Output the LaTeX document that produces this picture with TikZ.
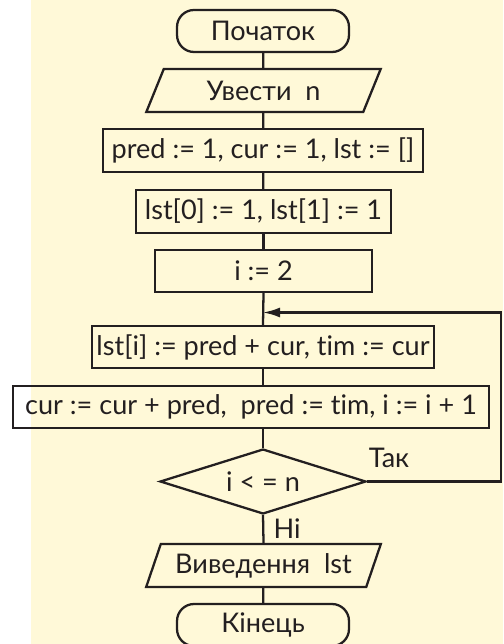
\documentclass[tikz,border=0pt]{standalone}
\usepackage{fontspec}
\setmainfont[Ligatures=NoCommon]{Lato}
\usetikzlibrary{shapes.geometric,arrows.meta}
\definecolor{bgyel}{rgb}{1,0.976,0.847}
\definecolor{lndark}{rgb}{0.137,0.122,0.125}
\tikzset{
  blk/.style={draw=lndark,line width=1.3pt,inner sep=0pt,text=lndark,font=\fontsize{15.4}{18}\selectfont},
  term/.style={blk,rectangle,rounded corners=0.34cm,minimum width=3.44cm,minimum height=0.84cm},
  proc/.style={blk,rectangle,minimum height=0.85cm},
  io/.style={blk,trapezium,trapezium left angle=63,trapezium right angle=117,trapezium stretches=true,minimum width=4.7cm,minimum height=0.86cm},
  cond/.style={blk,diamond,aspect=3.17,minimum width=4.12cm,minimum height=1.3cm},
  flow/.style={draw=lndark,line width=1.3pt},
  lbl/.style={text=lndark,inner sep=0pt,font=\fontsize{15.4}{18}\selectfont}
}
\begin{document}
\begin{tikzpicture}[x=0.02cm,y=-0.02cm,line cap=butt,line join=miter]
  \useasboundingbox (0,0) rectangle (503,644);
  \fill[bgyel] (31,0) rectangle (503,644);
  \node[term] (start) at (263,31) {Початок};
  \node[io] (inp) at (263.5,90.5) {Увести\ \ n};
  \node[proc,minimum width=6.4cm] (init) at (263,150.5) {pred := 1, cur := 1, lst := []};
  \node[proc,minimum width=5.1cm] (first) at (263.5,211.5) {lst[0] := 1, lst[1] := 1};
  \node[proc,minimum width=4.34cm,minimum height=0.84cm] (seti) at (263.5,271) {i := 2};
  \node[proc,minimum width=6.84cm,minimum height=0.84cm] (step) at (263,347) {lst[i] := pred + cur, tim := cur};
  \node[proc,minimum width=9.52cm,minimum height=0.84cm] (shift) at (251,407) {cur := cur + pred,\ \ pred := tim, i := i + 1};
  \node[cond] (check) at (263,481.5) {i < = n};
  \node[io] (outp) at (263.5,565.5) {Виведення\ \ lst};
  \node[term] (stop) at (263,625) {Кінець};
  \coordinate (merge) at (263,312.5);
  \coordinate (corner) at (501,481.5);
  \draw[flow] (start) -- (inp);
  \draw[flow] (inp) -- (init);
  \draw[flow] (init) -- (first);
  \draw[flow] (first) -- (seti.north -| first.south);
  \draw[flow] (seti.south) -- (step.north);
  \draw[flow] (step.south) -- (step.south |- shift.north);
  \draw[flow] (step.south |- shift.south) -- (check.north);
  \draw[flow] (check.south) -- (outp.south |- outp.north);
  \draw[flow] (outp) -- (stop);
  \draw[flow,-{Latex[length=0.34cm,width=0.2cm]}] (check.east) -- (corner) |- (merge);
  \node[lbl] (yes) at (389,458) {Так};
  \node[lbl] (no) at (287,529) {Ні};
\end{tikzpicture}
\end{document}
